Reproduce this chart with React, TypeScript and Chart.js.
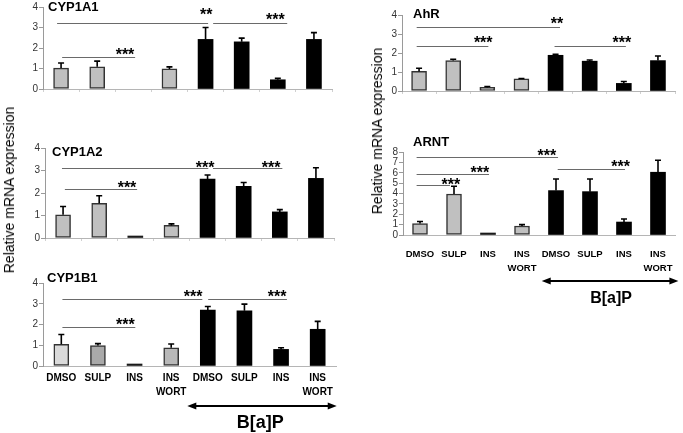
import React, { useEffect, useRef } from 'react';
import { Chart, registerables } from 'chart.js';

Chart.register(...registerables);

// ---------- data ----------
const categories: string[][] = [
  ['DMSO'], ['SULP'], ['INS'], ['INS', 'WORT'],
  ['DMSO'], ['SULP'], ['INS'], ['INS', 'WORT'],
];

const cyp1a1Values: (number | null)[] = [1.02, 1.08, null, 0.98, 2.42, 2.3, 0.45, 2.42];
const cyp1a1Sd = [0.25, 0.28, 0, 0.1, 0.58, 0.18, 0.07, 0.33];
const cyp1a2Values = [1.03, 1.54, 0.04, 0.56, 2.62, 2.3, 1.16, 2.65];
const cyp1a2Sd = [0.37, 0.34, 0, 0.07, 0.18, 0.17, 0.1, 0.47];
const cyp1b1Values = [1.05, 0.99, 0.07, 0.88, 2.69, 2.66, 0.8, 1.77];
const cyp1b1Sd = [0.47, 0.09, 0, 0.18, 0.18, 0.32, 0.08, 0.38];
const ahrValues = [1.03, 1.6, 0.19, 0.64, 1.88, 1.57, 0.4, 1.6];
const ahrSd = [0.17, 0.07, 0.05, 0.02, 0.05, 0.06, 0.1, 0.24];
const arntValues = [1.1, 3.95, 0.08, 0.87, 4.28, 4.18, 1.25, 6.05];
const arntSd = [0.2, 0.75, 0, 0.13, 1.12, 1.22, 0.29, 1.15];

// significance brackets: from/to in category index units, y in axis units
const cyp1a1Sig = [
  { from: -0.11, to: 4.07, y: 3.23 },
  { from: 4.21, to: 6.26, y: 3.23 },
  { from: 0.03, to: 2.05, y: 1.58 },
];
const cyp1a1Stars = [
  { text: '**', x: 4.02, y: 3.8 },
  { text: '***', x: 5.93, y: 3.55 },
  { text: '***', x: 1.77, y: 1.86 },
];
const cyp1a2Sig = [
  { from: -0.03, to: 4.02, y: 3.1 },
  { from: 4.15, to: 6.07, y: 3.1 },
  { from: 0.05, to: 2.05, y: 2.17 },
];
const cyp1a2Stars = [
  { text: '***', x: 3.93, y: 3.3 },
  { text: '***', x: 5.76, y: 3.3 },
  { text: '***', x: 1.77, y: 2.38 },
];
const cyp1b1Sig = [
  { from: 0.03, to: 3.85, y: 3.22 },
  { from: 4.01, to: 6.16, y: 3.22 },
  { from: 0.03, to: 2.02, y: 1.9 },
];
const cyp1b1Stars = [
  { text: '***', x: 3.6, y: 3.5 },
  { text: '***', x: 5.89, y: 3.5 },
  { text: '***', x: 1.75, y: 2.17 },
];
const ahrSig = [
  { from: -0.07, to: 4.13, y: 3.37 },
  { from: -0.07, to: 2.03, y: 2.37 },
  { from: 3.97, to: 6.06, y: 2.37 },
];
const ahrStars = [
  { text: '**', x: 4.04, y: 3.72 },
  { text: '***', x: 1.88, y: 2.76 },
  { text: '***', x: 5.94, y: 2.76 },
];
const arntSig = [
  { from: -0.1, to: 4.06, y: 7.5 },
  { from: -0.1, to: 2.03, y: 5.88 },
  { from: -0.1, to: 0.88, y: 4.79 },
  { from: 4.05, to: 6.03, y: 6.39 },
];
const arntStars = [
  { text: '***', x: 3.73, y: 7.96 },
  { text: '***', x: 1.76, y: 6.36 },
  { text: '***', x: 0.91, y: 5.24 },
  { text: '***', x: 5.9, y: 6.94 },
];

const yTitle = 'Relative mRNA expression';
const treatmentLabel = 'B[a]P';

// ---------- style ----------
const FONT = '"Liberation Sans", Arial, Helvetica, sans-serif';
const GRAY = '#c0c0c0';
const BLACK = '#000000';
const DARK = '#1a1a1a';
const stdFills = [GRAY, GRAY, GRAY, GRAY, BLACK, BLACK, BLACK, BLACK];
const a2Fills = [GRAY, GRAY, DARK, GRAY, BLACK, BLACK, BLACK, BLACK];
const arntFills = [GRAY, GRAY, DARK, GRAY, BLACK, BLACK, BLACK, BLACK];
const b1Fills = ['#dadada', '#a9a9a9', DARK, '#b8b8b8', BLACK, BLACK, BLACK, BLACK];

const annotPlugin = {
  id: 'annot',
  afterDatasetsDraw(chart: any, _args: any, opts: any) {
    const ctx = chart.ctx as CanvasRenderingContext2D;
    const xs = chart.scales.x;
    const ys = chart.scales.y;
    const meta = chart.getDatasetMeta(0);
    ctx.save();
    // error bars
    ctx.strokeStyle = '#000';
    ctx.lineWidth = 1.6;
    (opts.sd as number[]).forEach((sd, i) => {
      const v = opts.values[i];
      if (!sd || v == null) return;
      const el = meta.data[i];
      const yTop = ys.getPixelForValue(v + sd);
      ctx.beginPath();
      ctx.moveTo(el.x, el.y);
      ctx.lineTo(el.x, yTop);
      ctx.moveTo(el.x - 3, yTop);
      ctx.lineTo(el.x + 3, yTop);
      ctx.stroke();
    });
    // significance lines
    ctx.strokeStyle = '#6a6a6a';
    ctx.lineWidth = 1.2;
    (opts.sig as any[]).forEach((s) => {
      const y = Math.round(ys.getPixelForValue(s.y)) + 0.5;
      ctx.beginPath();
      ctx.moveTo(xs.getPixelForValue(s.from), y);
      ctx.lineTo(xs.getPixelForValue(s.to), y);
      ctx.stroke();
    });
    ctx.fillStyle = '#000';
    ctx.font = `bold 16px ${FONT}`;
    ctx.textAlign = 'center';
    ctx.textBaseline = 'alphabetic';
    (opts.stars as any[]).forEach((s) => {
      ctx.fillText(s.text, xs.getPixelForValue(s.x), ys.getPixelForValue(s.y) + 9);
    });
    // panel title
    ctx.font = `bold 13px ${FONT}`;
    ctx.textAlign = 'left';
    ctx.textBaseline = 'middle';
    ctx.fillText(opts.title, chart.chartArea.left + opts.titleDx, ys.getPixelForValue(ys.max) + opts.titleDy);
    // treatment arrow
    if (opts.arrow) {
      const a = opts.arrow;
      const y = chart.chartArea.bottom + a.dy;
      const x1 = xs.getPixelForValue(a.from);
      const x2 = xs.getPixelForValue(a.to);
      ctx.strokeStyle = '#000';
      ctx.lineWidth = 2;
      ctx.beginPath();
      ctx.moveTo(x1 + 6, y);
      ctx.lineTo(x2 - 6, y);
      ctx.stroke();
      ctx.beginPath();
      ctx.moveTo(x1, y);
      ctx.lineTo(x1 + 9, y - 3.5);
      ctx.lineTo(x1 + 9, y + 3.5);
      ctx.closePath();
      ctx.moveTo(x2, y);
      ctx.lineTo(x2 - 9, y - 3.5);
      ctx.lineTo(x2 - 9, y + 3.5);
      ctx.closePath();
      ctx.fill();
      ctx.font = `bold ${a.size}px ${FONT}`;
      ctx.textAlign = 'center';
      ctx.textBaseline = 'middle';
      ctx.fillText(treatmentLabel, xs.getPixelForValue(a.labelX), chart.chartArea.bottom + a.labelDy);
    }
    ctx.restore();
  },
};

type PanelCfg = {
  title: string;
  values: (number | null)[];
  sd: number[];
  sig: any[];
  stars: any[];
  fills: string[];
  max: number;
  left: number;
  right: number;
  topY: number;
  zeroY: number;
  titleDx: number;
  titleDy: number;
  showLabels: boolean;
  labelFont?: any;
  labelPad?: number;
  arrow?: any;
  barW: number;
};

const AXW = 32;
const PADT = 16;
const PADR = 8;

function Panel({ cfg }: { cfg: PanelCfg }) {
  const ref = useRef<HTMLCanvasElement>(null);
  const xH = cfg.showLabels ? 40 : 6;
  const padB = cfg.arrow ? 36 : 0;
  const w = AXW + (cfg.right - cfg.left) + PADR;
  const h = PADT + (cfg.zeroY - cfg.topY) + xH + padB;
  useEffect(() => {
    const chart = new Chart(ref.current as HTMLCanvasElement, {
      type: 'bar',
      data: {
        labels: categories as any,
        datasets: [
          {
            data: cfg.values,
            backgroundColor: cfg.fills,
            borderColor: cfg.fills.map((c) => (c === BLACK || c === DARK ? c : '#333333')),
            borderWidth: ((c: any) => (cfg.fills[c.dataIndex] === BLACK || cfg.fills[c.dataIndex] === DARK ? 0 : 1.5)) as any,
            borderSkipped: false,
            barThickness: cfg.barW,
            minBarLength: 2,
          } as any,
        ],
      },
      options: {
        responsive: false,
        animation: false,
        devicePixelRatio: 1,
        events: [],
        layout: { padding: { top: PADT, right: PADR, left: 0, bottom: padB } },
        plugins: {
          legend: { display: false },
          tooltip: { enabled: false },
          annot: {
            values: cfg.values,
            sd: cfg.sd,
            sig: cfg.sig,
            stars: cfg.stars,
            title: cfg.title,
            titleDx: cfg.titleDx,
            titleDy: cfg.titleDy,
            arrow: cfg.arrow,
          },
        } as any,
        scales: {
          x: {
            type: 'category',
            offset: true,
            border: { color: '#b5b5b5', width: 1 },
            grid: { display: !cfg.showLabels, drawOnChartArea: false, tickLength: 3, color: '#d0d0d0', offset: true },
            ticks: {
              display: cfg.showLabels,
              autoSkip: false,
              maxRotation: 0,
              minRotation: 0,
              color: '#000',
              padding: cfg.labelPad ?? 4,
              font: cfg.labelFont,
            },
            afterFit: (s: any) => {
              s.height = xH;
            },
          },
          y: {
            min: 0,
            max: cfg.max,
            border: { color: '#9a9a9a', width: 1 },
            grid: { display: true, drawOnChartArea: false, tickLength: 4, color: '#9a9a9a' },
            ticks: {
              stepSize: 1,
              autoSkip: false,
              color: '#333',
              padding: 1,
              font: { family: FONT, size: 10, lineHeight: 1 },
            },
            afterFit: (s: any) => {
              s.width = AXW;
            },
          },
        },
      },
      plugins: [annotPlugin as any],
    });
    return () => chart.destroy();
  }, []);
  return (
    <canvas
      ref={ref}
      width={w}
      height={h}
      style={{ position: 'absolute', left: cfg.left - AXW, top: cfg.topY - PADT, width: w, height: h }}
    />
  );
}

const panels: PanelCfg[] = [
  {
    title: 'CYP1A1', values: cyp1a1Values, sd: cyp1a1Sd, sig: cyp1a1Sig, stars: cyp1a1Stars, fills: stdFills,
    max: 4, left: 43, right: 332, topY: 7, zeroY: 89, titleDx: 5, titleDy: 0, showLabels: false, barW: 15,
  },
  {
    title: 'CYP1A2', values: cyp1a2Values, sd: cyp1a2Sd, sig: cyp1a2Sig, stars: cyp1a2Stars, fills: a2Fills,
    max: 4, left: 45, right: 334, topY: 148, zeroY: 238, titleDx: 7, titleDy: 4, showLabels: false, barW: 15,
  },
  {
    title: 'CYP1B1', values: cyp1b1Values, sd: cyp1b1Sd, sig: cyp1b1Sig, stars: cyp1b1Stars, fills: b1Fills,
    max: 4, left: 43, right: 336, topY: 283, zeroY: 366, titleDx: 4, titleDy: -5, showLabels: true,
    labelFont: { family: `"Liberation Sans Narrow", ${FONT}`, size: 10, weight: 'bold', lineHeight: 1.4 }, labelPad: 2,
    arrow: { from: 3.44, to: 7.52, dy: 40, labelX: 5.43, labelDy: 57, size: 18 }, barW: 15,
  },
  {
    title: 'AhR', values: ahrValues, sd: ahrSd, sig: ahrSig, stars: ahrStars, fills: stdFills,
    max: 4, left: 402, right: 675, topY: 15, zeroY: 91, titleDx: 11, titleDy: -1, showLabels: false, barW: 15,
  },
  {
    title: 'ARNT', values: arntValues, sd: arntSd, sig: arntSig, stars: arntStars, fills: arntFills,
    max: 8, left: 403, right: 675, topY: 152, zeroY: 235, titleDx: 10, titleDy: -10, showLabels: true,
    labelFont: { family: FONT, size: 9.5, weight: 'bold', lineHeight: 1.5 }, labelPad: 9,
    arrow: { from: 3.58, to: 7.6, dy: 46, labelX: 5.62, labelDy: 64, size: 16 }, barW: 15,
  },
];

export default function App() {
  return (
    <div style={{ position: 'fixed', left: 0, top: 0, width: 683, height: 433, background: '#fff', overflow: 'hidden' }}>
      {panels.map((p) => (
        <Panel key={p.title} cfg={p} />
      ))}
      <div
        style={{
          position: 'absolute', left: 9, top: 190, transform: 'translate(-50%, -50%) rotate(-90deg)',
          whiteSpace: 'nowrap', fontFamily: FONT, fontSize: 14, color: '#000',
        }}
      >
        {yTitle}
      </div>
      <div
        style={{
          position: 'absolute', left: 377, top: 131, transform: 'translate(-50%, -50%) rotate(-90deg)',
          whiteSpace: 'nowrap', fontFamily: FONT, fontSize: 14, color: '#000',
        }}
      >
        {yTitle}
      </div>
    </div>
  );
}
